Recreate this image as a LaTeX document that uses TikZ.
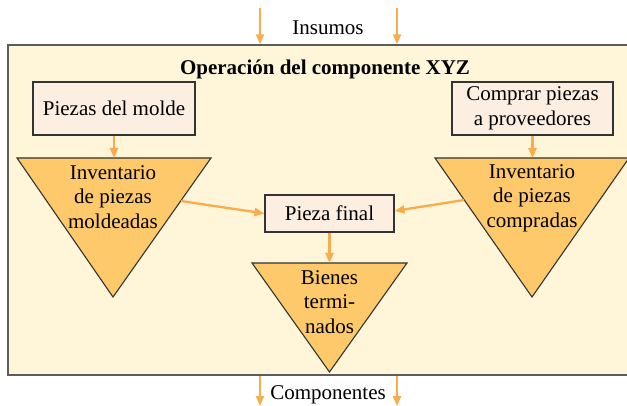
\documentclass[tikz,border=0pt]{standalone}
\usepackage{fontspec}
\setmainfont{LiberationSerif}[Extension=.ttf, UprightFont=*-Regular, BoldFont=*-Bold]
\usetikzlibrary{arrows.meta,positioning,calc}

\definecolor{opfill}{HTML}{FFF5D8}
\definecolor{boxfill}{HTML}{FCEEE1}
\definecolor{stockfill}{HTML}{FEC96B}
\definecolor{flowcol}{HTML}{F9AC4C}
\definecolor{linecol}{HTML}{333333}

\begin{document}
\begin{tikzpicture}[
    x=1pt, y=-1pt,
    txt/.style={font=\rmfamily\fontsize{21}{24.5}\selectfont, align=center, inner sep=0pt},
    box/.style={txt, rectangle, draw=linecol, line width=1.1pt, fill=boxfill},
    stock/.style={draw=linecol, line width=1.1pt, fill=stockfill, line join=miter},
    arrow/.style={-{Triangle[length=10pt, width=8pt]}, line width=2.3pt, draw=flowcol},
  ]
    \useasboundingbox (0,0) rectangle (627,406);
    \clip (0,0) rectangle (627,406);

    % operation frame
    \node[draw=linecol!80, line width=1.4pt, fill=opfill, minimum width=652pt, minimum height=330pt, inner sep=0pt] (op) at (334,210) {};
    \node[txt, font=\rmfamily\bfseries\fontsize{21}{24.5}\selectfont, anchor=base] (title) at (325,75) {Operación del componente XYZ};

    % inputs and outputs
    \coordinate (in1) at (260,8);
    \coordinate (in2) at (397,8);
    \coordinate (out1) at (260,406);
    \coordinate (out2) at (397,406);
    \node[txt, anchor=base] (insumos) at (328,35) {Insumos};
    \node[txt, anchor=base] (comp) at (328,399) {Componentes};
    \draw[arrow] (in1) -- (in1 |- op.north);
    \draw[arrow] (in2) -- (in2 |- op.north);
    \draw[arrow] (out1 |- op.south) -- (out1);
    \draw[arrow] (out2 |- op.south) -- (out2);

    % processes
    \node[box, minimum width=162pt, minimum height=53pt] (molde) at (114,108.5) {Piezas del molde};
    \node[box, minimum width=161pt, minimum height=53pt] (compra) at (532.5,108.5) {Comprar piezas\\a proveedores};
    \node[box, minimum width=129pt, minimum height=37pt] (final) at (329.5,213.5) {Pieza final};

    % inventories
    \draw[stock] (17,158) coordinate (invL-a) -- (211,158) -- (113,297) -- cycle;
    \draw[stock] (435,158) coordinate (invR-a) -- (629,158) -- (532,297) -- cycle;
    \draw[stock] (252,263) coordinate (invB-a) -- (407,263) -- (329.5,372) -- cycle;
    \coordinate (invL-top) at (114,158);
    \coordinate (invR-top) at (532.5,158);
    \coordinate (invB-top) at (329.5,263);
    \coordinate (invL-out) at (181,201);
    \coordinate (invR-out) at (464,200);

    \node[txt] (invL) at (113,197) {Inventario\\de piezas\\moldeadas};
    \node[txt] (invR) at (532,198) {Inventario\\de piezas\\compradas};
    \node[txt] (invB) at (329.5,302) {Bienes\\termi-\\nados};

    \draw[arrow] (molde.south) -- (invL-top);
    \draw[arrow] (compra.south) -- (invR-top);
    \draw[arrow] (final.south) -- (invB-top);
    \draw[arrow] (invL-out) -- (final.west);
    \draw[arrow] (invR-out) -- ($(final.east)+(0,-2.5)$);
  \end{tikzpicture}
\end{document}
